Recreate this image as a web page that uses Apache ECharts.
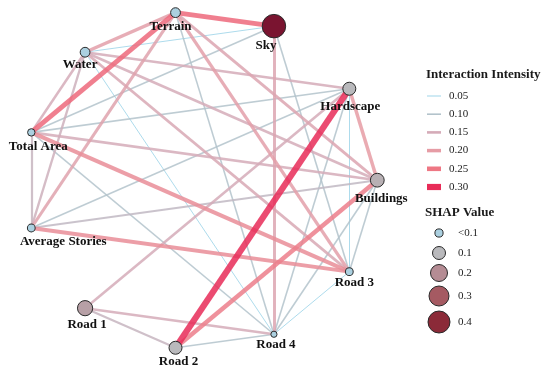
<!DOCTYPE html>
<html><head><meta charset="utf-8">
<script src="https://cdn.jsdelivr.net/npm/echarts@6/dist/echarts.min.js"></script>
<style>html,body{margin:0;padding:0;background:#fff}#c{width:550px;height:374px}</style>
</head><body><div id="c"></div>
<script>
// ---- data ----
const nodeNames = ['Buildings','Hardscape','Sky','Terrain','Water','Total Area','Average Stories','Road 1','Road 2','Road 4','Road 3'];
const nodeAngles = [0, 32.7, 65.5, 98.2, 130.9, 163.6, 196.4, 229.1, 261.8, 294.5, 327.3];
const shapValues = [0.12, 0.10, 0.45, 0.06, 0.06, 0.03, 0.035, 0.155, 0.10, 0.015, 0.035];

const linkSource = ['Sky','Sky','Sky','Sky','Sky',
  'Terrain','Terrain','Terrain','Terrain','Terrain','Terrain',
  'Water','Water','Water','Water','Water','Water',
  'Total Area','Total Area','Total Area','Total Area','Total Area',
  'Average Stories','Average Stories','Average Stories',
  'Road 1','Road 1','Road 1',
  'Road 2','Road 2','Road 2',
  'Road 4','Road 4','Road 4',
  'Hardscape','Hardscape','Buildings'];
const linkTarget = ['Terrain','Water','Total Area','Road 4','Road 3',
  'Water','Total Area','Average Stories','Road 4','Road 3','Buildings',
  'Total Area','Average Stories','Hardscape','Buildings','Road 3','Road 4',
  'Average Stories','Hardscape','Buildings','Road 3','Road 4',
  'Hardscape','Buildings','Road 3',
  'Hardscape','Road 4','Road 2',
  'Hardscape','Buildings','Road 4',
  'Hardscape','Buildings','Road 3',
  'Buildings','Road 3','Road 3'];
const linkValue = [0.26,0.05,0.10,0.17,0.10,
  0.19,0.26,0.18,0.10,0.19,0.17,
  0.15,0.14,0.15,0.15,0.16,0.05,
  0.13,0.10,0.15,0.22,0.10,
  0.10,0.12,0.22,
  0.15,0.15,0.13,
  0.30,0.24,0.10,
  0.10,0.10,0.05,
  0.20,0.05,0.10];

const intensityTicks = ['0.05','0.10','0.15','0.20','0.25','0.30'];
const shapTickLabels = ['<0.1','0.1','0.2','0.3','0.4'];
const shapTickValues = [0.04, 0.1, 0.2, 0.3, 0.4];

// ---- styles ----
const edgeColorStops = [[0.05,'#9fd5e9'],[0.10,'#b3c3cb'],[0.15,'#d5abb8'],[0.20,'#e69ca5'],[0.25,'#ee7784'],[0.30,'#e82c58']];
const edgeWidthStops = [[0.05,1],[0.10,1.6],[0.15,2.6],[0.20,3.5],[0.25,4.6],[0.30,6.2]];
const nodeColorStops = [[0.0999,'#abd0e0'],[0.10,'#b9b9bc'],[0.20,'#b58c94'],[0.30,'#a55a62'],[0.40,'#8b2a38'],[0.45,'#7a1430']];
const nodeSizeStops = [[0,5],[0.1,13],[0.2,17],[0.3,20],[0.4,22],[0.5,25]];
const labelOffsets = {
  'Terrain':[-5,14],'Sky':[-8,19],'Water':[-5,12],'Total Area':[7,14],'Average Stories':[32,14],
  'Road 1':[2,16],'Road 2':[3,14],'Road 4':[2,10],'Road 3':[5,11],'Buildings':[4,18],'Hardscape':[1,18]
};

function hex2rgb(h){h=h.replace('#','');return [parseInt(h.substr(0,2),16),parseInt(h.substr(2,2),16),parseInt(h.substr(4,2),16)];}
function interpNum(stops,v){
  if(v<=stops[0][0])return stops[0][1];
  for(let i=1;i<stops.length;i++){if(v<=stops[i][0]){const a=stops[i-1],b=stops[i];const t=(v-a[0])/(b[0]-a[0]);return a[1]+(b[1]-a[1])*t;}}
  return stops[stops.length-1][1];
}
function interpColor(stops,v){
  if(v<=stops[0][0])return stops[0][1];
  for(let i=1;i<stops.length;i++){if(v<=stops[i][0]){const a=stops[i-1],b=stops[i];const t=(v-a[0])/(b[0]-a[0]);const ca=hex2rgb(a[1]),cb=hex2rgb(b[1]);
    return 'rgb('+ca.map((c,k)=>Math.round(c+(cb[k]-c)*t)).join(',')+')';}}
  return stops[stops.length-1][1];
}

const nodes = nodeNames.map((n,i)=>{
  const a = nodeAngles[i]*Math.PI/180;
  const off = labelOffsets[n];
  return {
    name:n,
    value:[Math.cos(a),Math.sin(a)],
    symbolSize: interpNum(nodeSizeStops, shapValues[i]),
    itemStyle:{color: interpColor(nodeColorStops, shapValues[i]), borderColor:'#2a2a2a', borderWidth:1},
    label:{show:true, position:'inside', offset:off}
  };
});
const order = linkValue.map((v,i)=>i).sort((a,b)=>linkValue[a]-linkValue[b]);
const links = order.map(i=>({
  source:linkSource[i], target:linkTarget[i], value:linkValue[i],
  lineStyle:{color:interpColor(edgeColorStops,linkValue[i]), width:interpNum(edgeWidthStops,linkValue[i]), opacity:0.85, curveness:0}
}));

const serif = '"Liberation Serif","Times New Roman",serif';
const graphics = [];
graphics.push({type:'text', left:426, top:68, style:{text:'Interaction Intensity', font:'bold 13px '+serif, fill:'#1a1a1a'}});
intensityTicks.forEach((t,i)=>{
  const y = 96 + 18.2*i; const v = parseFloat(t);
  graphics.push({type:'line', shape:{x1:427,y1:y,x2:441,y2:y}, style:{stroke:interpColor(edgeColorStops,v), lineWidth:interpNum(edgeWidthStops,v)}});
  graphics.push({type:'text', x:449, y:y, style:{text:t, font:'11px '+serif, fill:'#222', textVerticalAlign:'middle'}});
});
graphics.push({type:'text', left:425, top:206, style:{text:'SHAP Value', font:'bold 13px '+serif, fill:'#1a1a1a'}});
const shapY = [233,253,273,296,322];
shapTickLabels.forEach((t,i)=>{
  const v = shapTickValues[i];
  graphics.push({type:'circle', shape:{cx:439, cy:shapY[i], r:interpNum(nodeSizeStops,v)/2}, style:{fill:interpColor(nodeColorStops,v), stroke:'#2a2a2a', lineWidth:1}});
  graphics.push({type:'text', x:458, y:shapY[i], style:{text:t, font:'11px '+serif, fill:'#222', textVerticalAlign:'middle'}});
});

const chart = echarts.init(document.getElementById('c'));
chart.setOption({
  animation:false,
  backgroundColor:'#fff',
  grid:{left:24.1, top:10.9, width:353.2, height:338.6},
  xAxis:{type:'value', min:-1, max:1, show:false},
  yAxis:{type:'value', min:-1, max:1, show:false},
  series:[{
    type:'graph', coordinateSystem:'cartesian2d', xAxisIndex:0, yAxisIndex:0,
    symbol:'circle', data:nodes, links:links, silent:true,
    label:{show:true, fontFamily:serif, fontWeight:'bold', fontSize:13, color:'#111', align:'center', verticalAlign:'middle'},
    emphasis:{disabled:true}
  }],
  graphic:graphics
});
</script></body></html>
